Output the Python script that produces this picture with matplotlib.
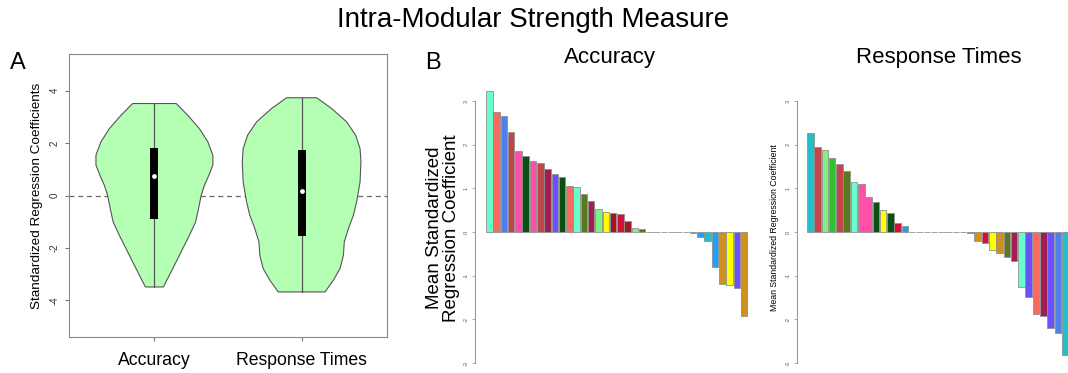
import numpy as np
import matplotlib
matplotlib.use("Agg")
import matplotlib.pyplot as plt

plt.rcParams['font.family'] = ['Liberation Sans', 'DejaVu Sans']

# ---------------- Data ----------------
groups = ["Accuracy", "Response Times"]

# violin outlines: (y level, half width)
acc_violin_y = [3.51, 3.06, 2.55, 2.05, 1.54, 1.16, 0.77, 0.39, 0.01, -0.50,
                -1.01, -1.52, -2.02, -2.53, -3.04, -3.49]
acc_violin_w = [0.148, 0.227, 0.306, 0.363, 0.397, 0.397, 0.370, 0.340, 0.318,
                0.300, 0.280, 0.238, 0.193, 0.148, 0.102, 0.061]
rt_violin_y = [3.73, 3.32, 2.81, 2.30, 1.79, 1.28, 0.52, -0.24, -0.75, -1.26,
               -1.77, -2.28, -2.79, -3.23, -3.68]
rt_violin_w = [0.102, 0.204, 0.306, 0.367, 0.397, 0.403, 0.397, 0.374, 0.352,
               0.318, 0.290, 0.284, 0.261, 0.216, 0.159]
box_q1 = [-0.88, -1.55]
box_q3 = [1.82, 1.73]
box_median = [0.76, 0.18]

acc_values = [3.24, 2.74, 2.67, 2.29, 1.86, 1.74, 1.63, 1.59, 1.45, 1.32, 1.27,
              1.06, 1.04, 0.87, 0.71, 0.52, 0.47, 0.43, 0.41, 0.26, 0.10, 0.08,
              0, 0, 0, 0, 0, 0,
              -0.02, -0.12, -0.21, -0.79, -1.18, -1.22, -1.27, -1.93]
acc_colors = ['#66FFCC', '#F86A5E', '#4F7FE8', '#C0464C', '#FF4FA8', '#0A5010',
              '#FF4FA8', '#C0464C', '#A01F50', '#6A50FF', '#0A5010', '#F86A5E',
              '#66FFCC', '#5A7A20', '#A01F50', '#80F080', '#FFFF00', '#A01822',
              '#D0103A', '#A01A22', '#80F080', '#5A7A20',
              '#BBBBBB', '#BBBBBB', '#BBBBBB', '#BBBBBB', '#BBBBBB', '#BBBBBB',
              '#2090C0', '#1EA0FF', '#20C0C8', '#1EA0FF', '#D09020', '#FFFF00',
              '#6A50FF', '#D09020']

rt_values = [2.28, 1.94, 1.87, 1.69, 1.55, 1.39, 1.15, 1.10, 0.81, 0.69, 0.51,
             0.44, 0.21, 0.14,
             0, 0, 0, 0, 0, 0, 0, 0,
             -0.02, -0.21, -0.24, -0.40, -0.47, -0.56, -0.66, -1.26, -1.48,
             -1.88, -1.91, -2.20, -2.32, -2.82]
rt_colors = ['#20C0C8', '#C0464C', '#80F080', '#30C030', '#C0464C', '#5A7A20',
             '#66FFCC', '#FF4FA8', '#FF4FA8', '#0A5010', '#FFFF00', '#0A5010',
             '#D0103A', '#1EA0FF',
             '#BBBBBB', '#BBBBBB', '#BBBBBB', '#BBBBBB', '#BBBBBB', '#BBBBBB',
             '#BBBBBB', '#BBBBBB',
             '#2090C0', '#D09020', '#D0103A', '#FFFF00', '#D09020', '#5A7A20',
             '#A01F50', '#66FFCC', '#6A50FF', '#F86A5E', '#A01F50', '#6A50FF',
             '#4F7FE8', '#20C0C8']

bar_ticks = [-3, -2, -1, 0, 1, 2, 3]
violin_ticks = [-4, -2, 0, 2, 4]

# ---------------- Figure ----------------
W, H = 1068, 373
fig = plt.figure(figsize=(W / 100, H / 100), dpi=100)


def px_axes(left, top, right, bottom):
    return fig.add_axes([left / W, (H - bottom) / H, (right - left) / W, (bottom - top) / H])


fig.text(533 / W, 1 - 20 / H, "Intra-Modular Strength Measure", ha='center', va='center', fontsize=20)
fig.text(18 / W, 1 - 63 / H, "A", ha='center', va='center', fontsize=17)
fig.text(433 / W, 1 - 63 / H, "B", ha='center', va='center', fontsize=17)

# ---------------- Panel A: violins ----------------
axA = px_axes(69, 54, 387, 337)
green = '#B4FFB4'
edge = '#555555'
for i, (vy, vw) in enumerate([(acc_violin_y, acc_violin_w), (rt_violin_y, rt_violin_w)]):
    x0 = i + 1
    vy = np.array(vy)
    vw = np.array(vw)
    xs = np.concatenate([x0 - vw, (x0 + vw)[::-1]])
    ys = np.concatenate([vy, vy[::-1]])
    axA.fill(xs, ys, facecolor=green, edgecolor=edge, linewidth=0.8, zorder=2,
             joinstyle='round')
    axA.plot([x0, x0], [vy.min(), vy.max()], color=edge, linewidth=0.9, zorder=3)
    axA.bar(x0, box_q3[i] - box_q1[i], bottom=box_q1[i], width=0.054,
            color='black', zorder=4)
    axA.scatter([x0], [box_median[i]], s=12, color='white', zorder=5, linewidths=0)
axA.axhline(0, color='#666666', linestyle=(0, (4, 3)), linewidth=0.9, zorder=1)
axA.set_xlim(0.42, 2.58)
axA.set_ylim(-5.4, 5.4)
axA.set_yticks(violin_ticks)
axA.set_yticklabels([str(t) for t in violin_ticks], rotation=90, va='center', fontsize=7, color='#333333')
axA.set_xticks([1, 2])
axA.set_xticklabels(groups, fontsize=12.7)
axA.tick_params(axis='both', direction='out', length=3, color='#777777', width=0.8)
axA.tick_params(axis='x', pad=8)
for s in axA.spines.values():
    s.set_color('#888888')
    s.set_linewidth(0.8)
axA.set_ylabel("Standardized Regression Coefficients", fontsize=9.7, labelpad=5)


# ---------------- Panel B: bar charts ----------------
def bar_panel(left, right, x_first_center, values, colors):
    ax = px_axes(left, 88, right, 367.5)
    step = 7.28
    x = np.arange(len(values))
    x_lo = -(x_first_center - left) / step
    x_hi = x_lo + (right - left) / step
    ax.bar(x, values, width=0.9, color=colors, edgecolor='#909090', linewidth=0.6)
    ax.set_xlim(x_lo, x_hi)
    ax.set_ylim(-3.1, 3.3)
    for k in ['top', 'right', 'bottom']:
        ax.spines[k].set_visible(False)
    ax.spines['left'].set_bounds(-3, 3)
    ax.spines['left'].set_color('#999999')
    ax.spines['left'].set_linewidth(0.8)
    ax.set_xticks([])
    ax.set_yticks(bar_ticks)
    ax.set_yticklabels([str(t) for t in bar_ticks], rotation=90, va='center', fontsize=4, color='#555555')
    ax.tick_params(axis='y', length=2.5, color='#999999', width=0.6, pad=2)
    ax.patch.set_alpha(0)
    return ax


axB1 = bar_panel(475, 760, 489.3, acc_values, acc_colors)
axB1.set_ylabel("Mean Standardized\nRegression Coefficient", fontsize=13.5, labelpad=3, linespacing=1.0)
fig.text(610 / W, 1 - 57 / H, "Accuracy", ha='center', va='center', fontsize=16)

axB2 = bar_panel(797, 1068, 810.3, rt_values, rt_colors)
axB2.set_ylabel("Mean Standardized Regression Coefficient", fontsize=6.3, labelpad=5)
fig.text(939 / W, 1 - 57 / H, "Response Times", ha='center', va='center', fontsize=16)

fig.savefig("out.png", dpi=100)
